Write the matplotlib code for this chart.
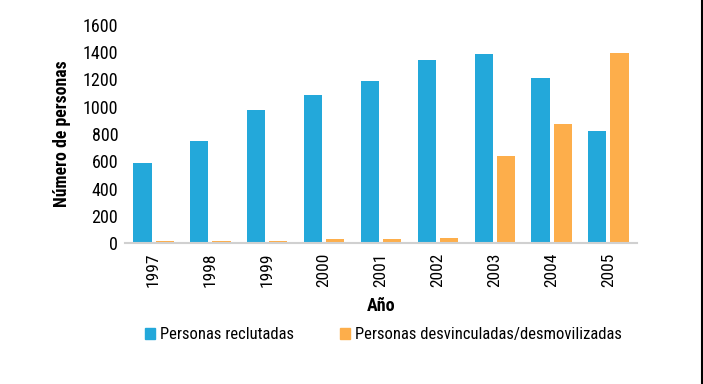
import matplotlib.pyplot as plt
import matplotlib.font_manager as fm
from matplotlib.lines import Line2D
from matplotlib.patches import Patch
import numpy as np

# datos
anios = ['1997', '1998', '1999', '2000', '2001', '2002', '2003', '2004', '2005']
reclutadas = [588, 748, 976, 1086, 1187, 1343, 1387, 1211, 822]
desvinculadas = [17, 15, 15, 29, 27, 39, 640, 871, 1396]

color_azul = '#23A8DA'
color_naranja = '#FDAE4B'

# fuente condensada si existe, si no Liberation Sans
nombres = {f.name for f in fm.fontManager.ttflist}
fuente = 'DejaVu Sans'
for n in ['Liberation Sans Narrow', 'Roboto Condensed', 'Open Sans Condensed', 'Liberation Sans']:
    if n in nombres:
        fuente = n
        break
plt.rcParams['font.family'] = [fuente, 'DejaVu Sans']

fig = plt.figure(figsize=(7.03, 3.84), dpi=100)
ax = fig.add_axes([0.178, 0.367, 0.728, 0.568])

x = np.arange(len(anios))
ancho = 0.32
ax.bar(x - 0.195, reclutadas, ancho, color=color_azul)
ax.bar(x + 0.195, desvinculadas, ancho, color=color_naranja)

ax.set_xlim(-0.5, len(anios) - 0.5)
ax.set_ylim(0, 1600)
ax.set_yticks(range(0, 1601, 200))
ax.set_xticks(x)
ax.set_xticklabels(anios, rotation=90, fontsize=12.5)
ax.tick_params(axis='y', labelsize=13, length=0, pad=5)
ax.tick_params(axis='x', length=0, pad=7)

for s in ['top', 'right', 'left']:
    ax.spines[s].set_visible(False)
ax.spines['bottom'].set_color('#d0d0d0')
ax.spines['bottom'].set_linewidth(1.5)

ax.set_xlabel('Año', fontsize=13, fontweight='bold', labelpad=7)
ax.set_ylabel('Número de personas', fontsize=12.8, fontweight='bold', labelpad=8)

handles = [Patch(color=color_azul), Patch(color=color_naranja)]
fig.legend(handles, ['Personas reclutadas', 'Personas desvinculadas/desmovilizadas'],
           loc='center', bbox_to_anchor=(0.545, 0.128), ncol=2, frameon=False,
           fontsize=12, handlelength=0.6, handleheight=0.6, handletextpad=0.3,
           columnspacing=2.75)

# linea del borde derecho
fig.add_artist(Line2D([0.998, 0.998], [0, 1], color='black', linewidth=1.5))

fig.savefig('out.png', dpi=100)
